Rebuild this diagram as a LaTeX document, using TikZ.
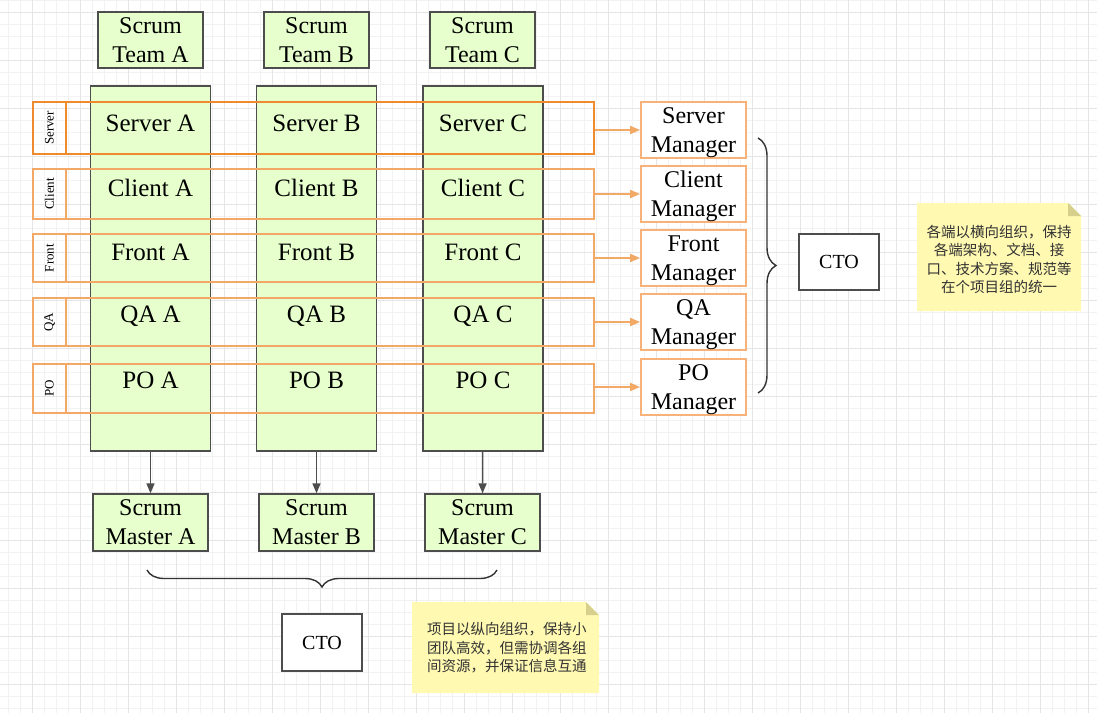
\documentclass[tikz,border=0pt]{standalone}
\usepackage{fontspec}
\setmainfont{Liberation Serif}
\newfontfamily\cjk{Noto Sans CJK SC}
\usetikzlibrary{arrows.meta,positioning,decorations.pathreplacing}
\definecolor{teamgreen}{HTML}{E6FFCC}
\definecolor{boxgray}{HTML}{4D4D4D}
\definecolor{bracegray}{HTML}{333333}
\definecolor{rowdeep}{HTML}{F08A2E}
\definecolor{rowlight}{HTML}{F4A866}
\definecolor{mgrorange}{HTML}{F7B27A}
\definecolor{memofill}{HTML}{FFF9B2}
\definecolor{memofold}{HTML}{D6D08C}
\definecolor{memotext}{HTML}{333333}

\begin{document}
\begin{tikzpicture}[x=1pt,y=-1pt,
  team/.style={draw=boxgray,fill=teamgreen,line width=1.3pt,minimum width=105pt,minimum height=56pt,inner sep=0pt,align=center,font=\fontsize{24}{29}\selectfont},
  column/.style={draw=boxgray,fill=teamgreen,line width=1.3pt,minimum width=120pt,minimum height=365pt,inner sep=0pt},
  lane/.style={draw=rowlight,line width=1.8pt,minimum width=561pt,inner sep=0pt},
  tag/.style={draw=rowlight,line width=1.8pt,minimum height=33pt,inner sep=0pt,rotate=90,font=\fontsize{13}{13}\selectfont},
  cell/.style={inner sep=0pt,font=\fontsize{25}{30}\selectfont},
  mgr/.style={draw=mgrorange,fill=white,line width=1.8pt,minimum width=105pt,minimum height=56pt,inner sep=0pt,text depth=0pt,align=center,font=\fontsize{24}{29}\selectfont},
  cto/.style={draw=boxgray,fill=white,line width=1.3pt,minimum width=80pt,minimum height=56pt,inner sep=0pt,font=\fontsize{20}{24}\selectfont},
  feed/.style={draw=boxgray,line width=1.5pt,-{Triangle[length=10pt,width=8pt]}},
  link/.style={draw=rowlight,line width=1.8pt,-{Triangle[length=10pt,width=8pt]}},
  curly/.style={draw=bracegray,line width=1.4pt,decorate,decoration={brace,amplitude=#1}},
  memo/.style={inner sep=0pt,text=memotext,font=\cjk\fontsize{14.5}{18.5}\selectfont}]
  \useasboundingbox (0,0) rectangle (1097,712);
  \fill[white] (0,0) rectangle (1097,712);
  % background grid
  \draw[gray!10,line width=0.6pt,step=12pt,shift={(8.7,0.3)}] (-12,-12) grid (1100,724);
  \draw[gray!20,line width=0.6pt,step=48pt,shift={(32.7,12.3)}] (-48,-48) grid (1100,724);

  % teams as columns
  \node[column] (colA) at (150.5,268.5) {};
  \node[column] (colB) at (316.5,268.5) {};
  \node[column] (colC) at (483,268.5) {};
  \node[team] (teamA) at (150.5,40) {Scrum\\Team A};
  \node[team] (teamB) at (316.5,40) {Scrum\\Team B};
  \node[team] (teamC) at (482.5,40) {Scrum\\Team C};
  \node[team,minimum width=115pt,minimum height=57pt] (masA) at (150.5,522.5) {Scrum\\Master A};
  \node[team,minimum width=115pt,minimum height=57pt] (masB) at (316.5,522.5) {Scrum\\Master B};
  \node[team,minimum width=115pt,minimum height=57pt] (masC) at (482.5,522.5) {Scrum\\Master C};
  \draw[feed] (colA) -- (masA);
  \draw[feed] (colB) -- (masB);
  \draw[feed] (colC) -- (masC);

  % roles as lanes
  \node[lane,draw=rowdeep,minimum height=52pt] (laneS) at (313.5,128) {};
  \node[lane,minimum height=50pt] (laneC) at (313.5,194) {};
  \node[lane,minimum height=48pt] (laneF) at (313.5,258) {};
  \node[lane,minimum height=48pt] (laneQ) at (313.5,322) {};
  \node[lane,minimum height=49pt] (laneP) at (313.5,388.5) {};
  \node[tag,draw=rowdeep,minimum width=52pt] (tagS) at (49.5,128) {Server};
  \node[tag,minimum width=50pt] (tagC) at (49.5,194) {Client};
  \node[tag,minimum width=48pt] (tagF) at (49.5,258) {Front};
  \node[tag,minimum width=48pt] (tagQ) at (49.5,322) {QA};
  \node[tag,minimum width=49pt] (tagP) at (49.5,388.5) {PO};

  \node[cell] (srvA) at (150.5,123) {Server A};
  \node[cell] (srvB) at (316.5,123) {Server B};
  \node[cell] (srvC) at (483,123) {Server C};
  \node[cell] (cliA) at (150.5,188) {Client A};
  \node[cell] (cliB) at (316.5,188) {Client B};
  \node[cell] (cliC) at (483,188) {Client C};
  \node[cell] (frtA) at (150.5,252) {Front A};
  \node[cell] (frtB) at (316.5,252) {Front B};
  \node[cell] (frtC) at (483,252) {Front C};
  \node[cell] (qaA) at (150.5,316) {QA A};
  \node[cell] (qaB) at (316.5,316) {QA B};
  \node[cell] (qaC) at (483,316) {QA C};
  \node[cell] (poA) at (150.5,380) {PO A};
  \node[cell] (poB) at (316.5,380) {PO B};
  \node[cell] (poC) at (483,380) {PO C};

  % managers
  \node[mgr] (mgrS) at (693.5,130) {Server\\Manager};
  \node[mgr] (mgrC) at (693.5,194) {Client\\Manager};
  \node[mgr] (mgrF) at (693.5,258) {Front\\Manager};
  \node[mgr] (mgrQ) at (693.5,322) {QA\\Manager};
  \node[mgr] (mgrP) at (693.5,387) {PO\\Manager};
  \draw[link] (laneS.east |- mgrS.west) -- (mgrS.west);
  \draw[link] (laneC.east |- mgrC.west) -- (mgrC.west);
  \draw[link] (laneF.east |- mgrF.west) -- (mgrF.west);
  \draw[link] (laneQ.east |- mgrQ.west) -- (mgrQ.west);
  \draw[link] (laneP.east |- mgrP.west) -- (mgrP.west);

  % the two CTOs
  \draw[curly=18pt] (758,138) -- (758,393);
  \node[cto] (ctoR) at (839,262) {CTO};
  \draw[curly=17pt] (497,570) -- (147,570);
  \node[cto,minimum height=57pt] (ctoB) at (322,642.5) {CTO};

  % notes
  \fill[memofill] (917,203) -- (1068,203) -- (1081,216) -- (1081,311) -- (917,311) -- cycle;
  \fill[memofold] (1068,203) -- (1081,216) -- (1068,216) -- cycle;
  \node[memo,align=center] (memoR) at (999,259.5) {各端以横向组织，保持\\各端架构、文档、接\\口、技术方案、规范等\\在个项目组的统一};
  \fill[memofill] (412,602) -- (586,602) -- (599,615) -- (599,693) -- (412,693) -- cycle;
  \fill[memofold] (586,602) -- (599,615) -- (586,615) -- cycle;
  \node[memo,align=left,anchor=west] (memoB) at (427,648) {项目以纵向组织，保持小\\团队高效，但需协调各组\\间资源，并保证信息互通};
\end{tikzpicture}
\end{document}
